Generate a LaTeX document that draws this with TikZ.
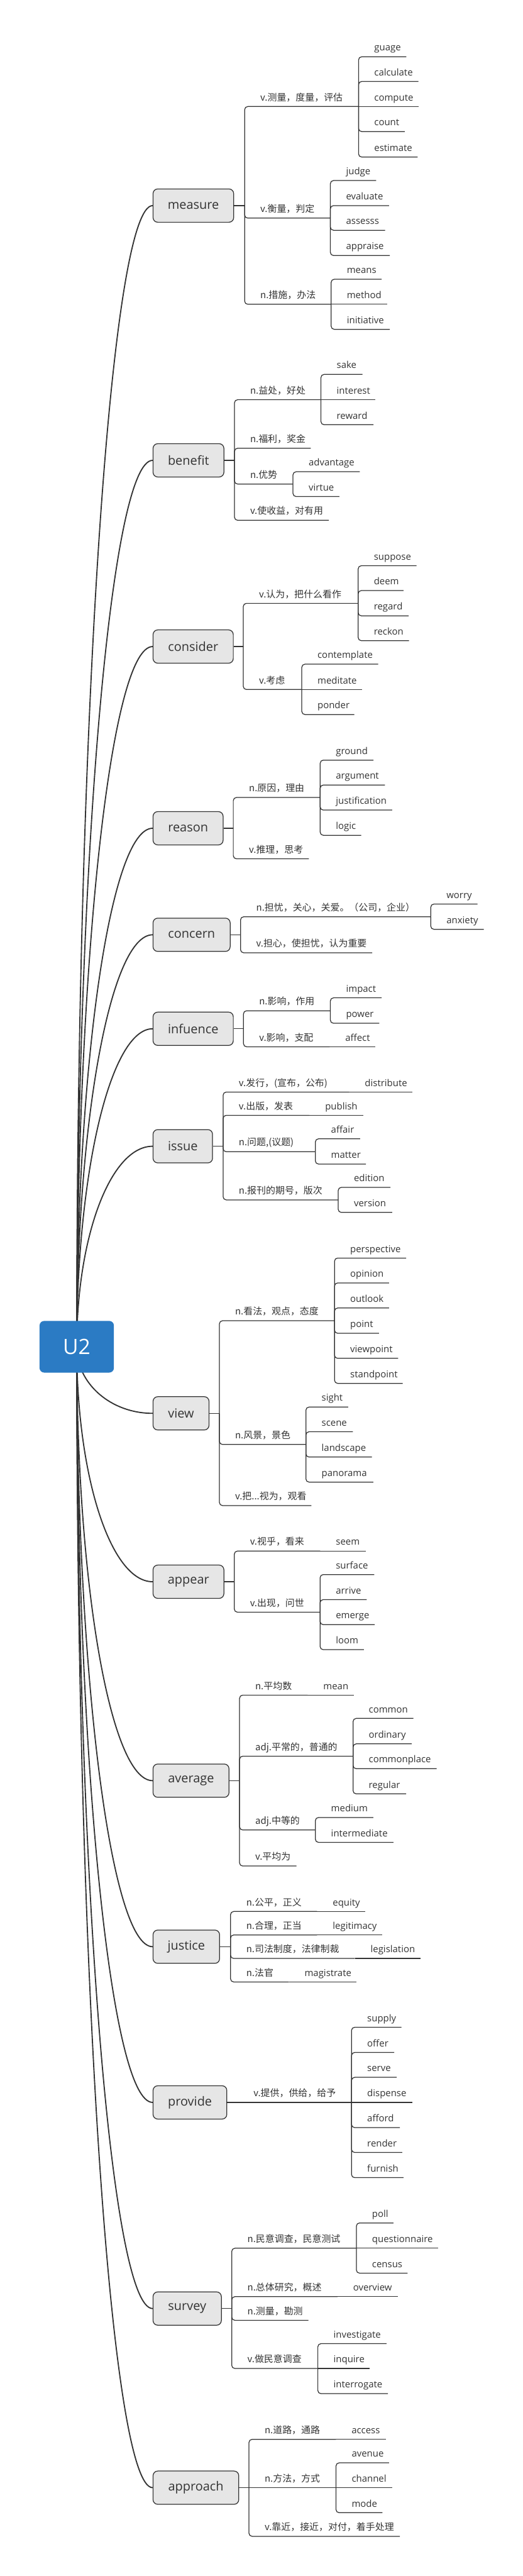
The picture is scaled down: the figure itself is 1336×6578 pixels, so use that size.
\documentclass[tikz,border=0pt]{standalone}
\usepackage{fontspec}
\setmainfont{Open Sans}
\newfontfamily\cjkfont{Noto Sans CJK SC}
\usetikzlibrary{calc}
\pgfdeclarelayer{bgbg}
\pgfdeclarelayer{bg}
\pgfsetlayers{bgbg,bg,main}
\definecolor{ink}{HTML}{333333}
\definecolor{boxfill}{HTML}{E6E6E6}
\definecolor{rootblue}{HTML}{2B7BC4}
\tikzset{
  tree/.style={draw=ink, line width=2pt, rounded corners=8pt},
  rootline/.style={draw=ink, line width=3pt},
  topicbox/.style={draw=ink, fill=boxfill, line width=2pt, rounded corners=12pt,
    minimum height=85pt, inner sep=0pt, text=ink, font=\fontsize{32}{38}\selectfont},
  rootbox/.style={fill=rootblue, rounded corners=12pt, minimum width=190pt,
    minimum height=132pt, inner sep=0pt, text=white, font=\fontsize{54}{60}\selectfont},
  senselab/.style={anchor=base west, inner sep=0pt, text=ink, font=\cjkfont\fontsize{24}{28}\selectfont},
  wordlab/.style={anchor=base west, inner sep=0pt, text=ink, font=\fontsize{24}{28}\selectfont},
}
% [op] parent, name, text x, line y, end x, text
\newcommand\Sense[7][|-]{%
  \node[senselab] (#3) at (#4,#5-15) {#7};
  \coordinate (#3e) at (#6,#5);
  \draw[tree] (#2) #1 (#3e);}
\newcommand\Word[7][|-]{%
  \node[wordlab] (#3) at (#4,#5-15) {#7};
  \coordinate (#3e) at (#6,#5);
  \draw[tree] (#2) #1 (#3e);}
% name, text, center x, center y, width, bracket x
\newcommand\Topic[6]{%
  \node[topicbox, minimum width=#5] (#1) at (#3,#4) {#2};
  \coordinate (#1b) at (#6,#4);
  \draw[tree] (#1.east) -- (#1b);}
\begin{document}
\begin{tikzpicture}[x=1pt,y=-1pt]
\begin{pgfonlayer}{bgbg}
\fill[white] (0,0) rectangle (1336,6578);
\end{pgfonlayer}
\useasboundingbox (0,0) rectangle (1336,6578);

\node[rootbox] (root) at (196,3439) {U2};

% measure
\Topic{measure}{measure}{494}{525}{206}{625}
\Sense{measureb}{m1}{665}{272}{916}{v.测量，度量，评估}
\Word{m1e}{guage}{956}{145}{1038}{guage}
\Word{m1e}{calculate}{956}{208}{1069}{calculate}
\Word[--]{m1e}{compute}{956}{272}{1069}{compute}
\Word{m1e}{count}{956}{336}{1034}{count}
\Word{m1e}{estimate}{956}{401}{1067}{estimate}
\Sense{measureb}{m2}{665}{557}{844}{v.衡量，判定}
\Word{m2e}{judge}{884}{461}{961}{judge}
\Word{m2e}{evaluate}{884}{525}{994}{evaluate}
\Word{m2e}{assesss}{884}{588}{984}{assesss}
\Word{m2e}{appraise}{884}{652.5}{996}{appraise}
\Sense{measureb}{m3}{665}{777}{846}{n.措施，办法}
\Word{m3e}{means}{886}{713}{975}{means}
\Word[--]{m3e}{method}{886}{777}{989}{method}
\Word{m3e}{initiative}{886}{841}{996}{initiative}

% benefit
\Topic{benefit}{benefit}{481.5}{1175.5}{181}{599}
\Sense{benefitb}{b1}{639}{1020.7}{820}{n.益处，好处}
\Word{b1e}{sake}{860}{956}{926}{sake}
\Word[--]{b1e}{interest}{860}{1020.7}{959}{interest}
\Word{b1e}{reward}{860}{1084.6}{954}{reward}
\Sense{benefitb}{b2}{639}{1144.6}{794}{n.福利，奖金}
\Sense{benefitb}{b3}{639}{1236}{748.5}{n.优势}
\Word{b3e}{advantage}{788.5}{1204.6}{919}{advantage}
\Word{b3e}{virtue}{788.5}{1268}{867}{virtue}
\Sense{benefitb}{b4}{639}{1328.6}{840}{v.使收益，对有用}

% consider
\Topic{consider}{consider}{493.5}{1651}{205}{621.5}
\Sense{considerb}{c1}{661.5}{1540.7}{915}{v.认为，把什么看作}
\Word{c1e}{suppose}{955}{1444.6}{1064}{suppose}
\Word{c1e}{deem}{955}{1508}{1031}{deem}
\Word{c1e}{regard}{955}{1572.5}{1044}{regard}
\Word{c1e}{reckon}{955}{1636}{1045}{reckon}
\Sense{considerb}{c2}{661.5}{1760.7}{771}{v.考虑}
\Word{c2e}{contemplate}{811}{1696}{966}{contemplate}
\Word[--]{c2e}{meditate}{811}{1760.7}{925}{meditate}
\Word{c2e}{ponder}{811}{1824.6}{905}{ponder}

% reason
\Topic{reason}{reason}{480.5}{2115}{179}{596}
\Sense{reasonb}{r1}{636}{2036.4}{818}{n.原因，理由}
\Word{r1e}{ground}{858}{1941}{954}{ground}
\Word{r1e}{argument}{858}{2004.6}{983.6}{argument}
\Word{r1e}{justification}{858}{2068.6}{1002}{justification}
\Word{r1e}{logic}{858}{2133}{923}{logic}
\Sense{reasonb}{r2}{636}{2193}{789}{v.推理，思考}

% concern
\Topic{concern}{concern}{489.5}{2387}{197}{614.5}
\Sense{concernb}{co1}{654.5}{2341}{1100.5}{n.担忧，关心，关爱。（公司，企业）}
\Word{co1e}{worry}{1140.5}{2308.6}{1220}{worry}
\Word{co1e}{anxiety}{1140.5}{2373}{1236}{anxiety}
\Sense{concernb}{co2}{654.5}{2433}{951}{v.担心，使担忧，认为重要}

% infuence
\Topic{infuence}{infuence}{493.5}{2627}{205}{622}
\Sense{infuenceb}{i1}{662}{2581}{844}{n.影响，作用}
\Word{i1e}{impact}{884}{2548}{975}{impact}
\Word{i1e}{power}{884}{2613}{969}{power}
\Sense{infuenceb}{i2}{662}{2673}{842}{v.影响，支配}
\Word[--]{i2e}{affect}{882}{2673}{959.5}{affect}

% issue
\Topic{issue}{issue}{467}{2927}{152}{570}
\Sense{issueb}{s1}{610}{2788.6}{892}{v.发行，(宣布，公布)}
\Word[--]{s1e}{distribute}{932}{2788.6}{1054}{distribute}
\Sense{issueb}{s2}{610}{2848}{790.5}{v.出版，发表}
\Word[--]{s2e}{publish}{830.5}{2848}{928}{publish}
\Sense{issueb}{s3}{610}{2941}{805.7}{n.问题,(议题)}
\Word{s3e}{affair}{845.7}{2908}{920}{affair}
\Word{s3e}{matter}{845.7}{2972.5}{935}{matter}
\Sense{issueb}{s4}{610}{3064}{864}{n.报刊的期号，版次}
\Word{s4e}{edition}{904}{3032}{997.6}{edition}
\Word{s4e}{version}{904}{3096}{1002}{version}

% view
\Topic{view}{view}{462.5}{3609}{143}{560.5}
\Sense{viewb}{v1}{600.5}{3372.5}{854.6}{n.看法，观点，态度}
\Word{v1e}{perspective}{894.6}{3212.5}{1037.6}{perspective}
\Word{v1e}{opinion}{894.6}{3276}{994}{opinion}
\Word{v1e}{outlook}{894.6}{3340}{994}{outlook}
\Word{v1e}{point}{894.6}{3404.6}{968}{point}
\Word{v1e}{viewpoint}{894.6}{3468.6}{1017}{viewpoint}
\Word{v1e}{standpoint}{894.6}{3532.5}{1029}{standpoint}
\Sense{viewb}{v2}{600.5}{3688.6}{781.5}{n.风景，景色}
\Word{v2e}{sight}{821.5}{3593}{889.5}{sight}
\Word{v2e}{scene}{821.5}{3656}{901.6}{scene}
\Word{v2e}{landscape}{821.5}{3720.7}{950}{landscape}
\Word{v2e}{panorama}{821.5}{3784.6}{953.7}{panorama}
\Sense{viewb}{v3}{600.5}{3844.6}{795.5}{v.把...视为，观看}

% appear
\Topic{appear}{appear}{481.5}{4039}{181}{598.6}
\Sense{appearb}{a1}{638.6}{3960.7}{818}{v.视乎，看来}
\Word[--]{a1e}{seem}{858}{3960.7}{934}{seem}
\Sense{appearb}{a2}{638.6}{4116.8}{817.8}{v.出现，问世}
\Word{a2e}{surface}{857.8}{4020.7}{956}{surface}
\Word{a2e}{arrive}{857.8}{4084.6}{937}{arrive}
\Word{a2e}{emerge}{857.8}{4148.6}{957.5}{emerge}
\Word{a2e}{loom}{857.8}{4212.5}{929.6}{loom}

% average
\Topic{average}{average}{488}{4547}{194}{612}
\Sense{averageb}{av1}{652}{4328.6}{786}{n.平均数}
\Word[--]{av1e}{mean}{826}{4328.6}{903.5}{mean}
\Sense{averageb}{av2}{652}{4484.5}{902}{adj.平常的，普通的}
\Word{av2e}{common}{942}{4388}{1056}{common}
\Word{av2e}{ordinary}{942}{4453}{1051.6}{ordinary}
\Word{av2e}{commonplace}{942}{4516.4}{1115.7}{commonplace}
\Word{av2e}{regular}{942}{4580.7}{1037.6}{regular}
\Sense{averageb}{av3}{652}{4672.9}{805.7}{adj.中等的}
\Word{av3e}{medium}{845.7}{4641}{953.7}{medium}
\Word{av3e}{intermediate}{845.7}{4704.6}{1005}{intermediate}
\Sense{averageb}{av4}{652}{4765}{757.4}{v.平均为}

% justice
\Topic{justice}{justice}{476}{4971}{170}{589}
\Sense{justiceb}{j1}{629}{4881}{810}{n.公平，正义}
\Word[--]{j1e}{equity}{850}{4881}{933}{equity}
\Sense{justiceb}{j2}{629}{4941}{810}{n.合理，正当}
\Word[--]{j2e}{legitimacy}{850}{4941}{977}{legitimacy}
\Sense{justiceb}{j3}{629}{5001}{906.7}{n.司法制度，法律制裁}
\Word[--]{j3e}{legislation}{946.7}{5001}{1074}{legislation}
\Sense{justiceb}{j4}{629}{5061}{738}{n.法官}
\Word[--]{j4e}{magistrate}{778}{5061}{910.5}{magistrate}

% provide
\Topic{provide}{provide}{485.25}{5368.6}{188.5}{607.5}
\Sense[--]{provideb}{p1}{647.5}{5368.6}{898}{v.提供，供给，给予}
\Word{p1e}{supply}{938}{5176.8}{1025.5}{supply}
\Word{p1e}{offer}{938}{5241}{1007}{offer}
\Word{p1e}{serve}{938}{5304.6}{1013.4}{serve}
\Word[--]{p1e}{dispense}{938}{5368.6}{1053.5}{dispense}
\Word{p1e}{afford}{938}{5432.9}{1021.7}{afford}
\Word{p1e}{render}{938}{5496.4}{1027.4}{render}
\Word{p1e}{furnish}{938}{5560.7}{1031}{furnish}

% survey
\Topic{survey}{survey}{478.25}{5895}{174.5}{592}
\Sense{surveyb}{sv1}{632}{5741}{910.5}{n.民意调查，民意测试}
\Word{sv1e}{poll}{950.5}{5676.4}{1005}{poll}
\Word[--]{sv1e}{questionnaire}{950.5}{5741}{1119.5}{questionnaire}
\Word{sv1e}{census}{950.5}{5804.6}{1041.4}{census}
\Sense{surveyb}{sv2}{632}{5864.6}{862}{n.总体研究，概述}
\Word[--]{sv2e}{overview}{902}{5864.6}{1017}{overview}
\Sense{surveyb}{sv3}{632}{5925}{788}{n.测量，勘测}
\Sense{surveyb}{sv4}{632}{6048}{812}{v.做民意调查}
\Word{sv4e}{investigate}{852}{5984.6}{987.4}{investigate}
\Word[--]{sv4e}{inquire}{852}{6048}{945}{inquire}
\Word{sv4e}{interrogate}{852}{6112.3}{991}{interrogate}

% approach
\Topic{approach}{approach}{500.5}{6352.4}{219}{636}
\Sense{approachb}{ap1}{676}{6229}{858}{n.道路，通路}
\Word[--]{ap1e}{access}{898}{6229}{985.5}{access}
\Sense[--]{approachb}{ap2}{676}{6352.4}{858.4}{n.方法，方式}
\Word{ap2e}{avenue}{898.4}{6289}{994}{avenue}
\Word[--]{ap2e}{channel}{898.4}{6352.4}{1002}{channel}
\Word{ap2e}{mode}{898.4}{6416.3}{977}{mode}
\Sense{approachb}{ap3}{676}{6476.6}{1021.7}{v.靠近，接近，对付，着手处理}

% root curves: quarter-ellipse from the root centre to each topic
\begin{pgfonlayer}{bg}
\foreach \t in {measure,benefit,consider,reason,concern,infuence,issue,view,appear,average,justice,provide,survey,approach}{
  \draw[rootline] (root.center) .. controls ($(root.center)!0.552!(root.center|-\t.west)$)
    and ($(\t.west)!0.552!(root.center|-\t.west)$) .. (\t.west);
}
\end{pgfonlayer}
\end{tikzpicture}
\end{document}
